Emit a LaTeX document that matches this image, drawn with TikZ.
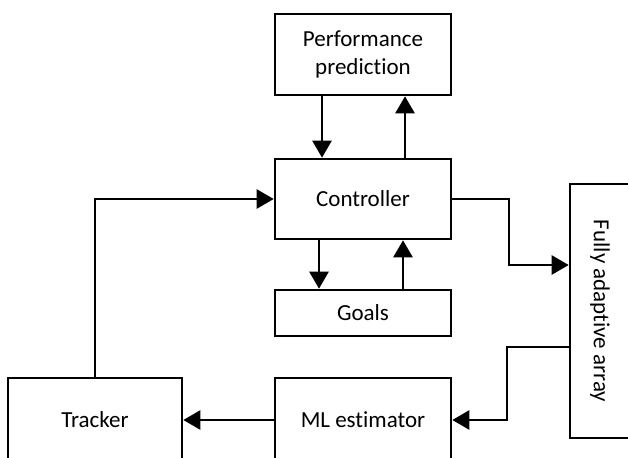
\documentclass[tikz,border=0pt]{standalone}
\usepackage{fontspec}
\setmainfont{Carlito}[Ligatures=NoCommon]
\usetikzlibrary{arrows.meta,calc}
\begin{document}
\begin{tikzpicture}[x=1pt,y=-1pt,
  box/.style={draw, line width=2.6pt, minimum width=176pt, align=center, inner sep=0pt, font=\fontsize{23}{28}\selectfont},
  arr/.style={line width=2.6pt, -{Triangle[length=17pt,width=19pt]}},
  ln/.style={line width=2.6pt}]
\clip (0,0) rectangle (628,457);
\useasboundingbox (0,0) rectangle (628,457);
\node[box, minimum height=81pt] (perf) at (363,54.5) {Performance\\prediction};
\node[box, minimum height=80pt] (ctrl) at (363,199) {Controller};
\node[box, minimum height=46pt] (goals) at (363,313) {Goals};
\node[box, minimum width=174pt, minimum height=84pt] (tracker) at (95,420) {Tracker};
\node[box, minimum height=84pt] (ml) at (363,420) {ML estimator};
\node[box, minimum width=60pt, minimum height=254pt] (fa) at (600,311) {};
\node[font=\fontsize{23}{28}\selectfont, rotate=-90] (fatext) at (fa.center) {Fully adaptive array};
\coordinate (c1) at (509,265);
\coordinate (c2) at (507,347);
\coordinate (c3) at (507,420);
\draw[arr] ([xshift=-41pt]perf.south) -- ([xshift=-41pt]ctrl.north);
\draw[arr] ([xshift=42pt]ctrl.north) -- ([xshift=42pt]perf.south);
\draw[arr] ([xshift=-44pt]ctrl.south) -- ([xshift=-44pt]goals.north);
\draw[arr] ([xshift=40pt]goals.north) -- ([xshift=40pt]ctrl.south);
\draw[arr] (ctrl.east) -| (c1) -- (c1 -| fa.west);
\draw[arr] (c2 -| fa.west) -| (c3) -- (ml.east);
\draw[arr] (ml.west) -- (tracker.east);
\draw[arr] (tracker.north) |- (ctrl.west);
\end{tikzpicture}
\end{document}
